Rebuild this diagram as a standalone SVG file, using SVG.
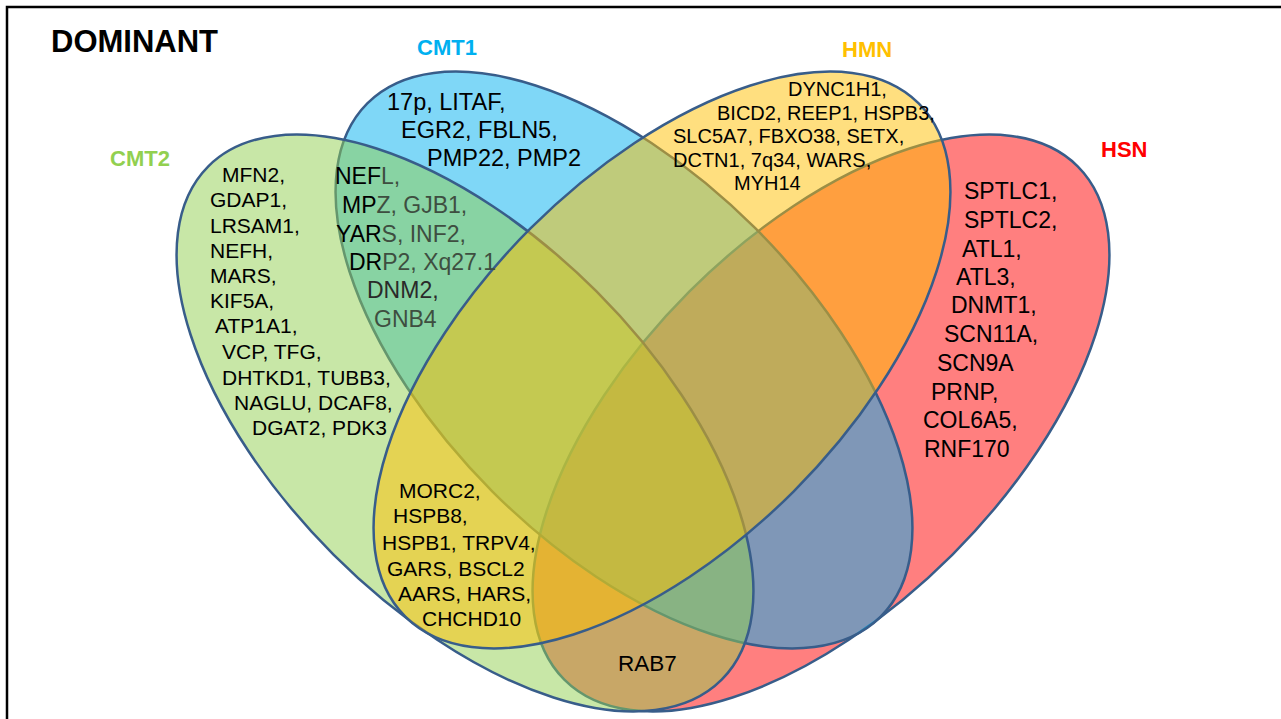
<svg xmlns="http://www.w3.org/2000/svg" width="1281" height="719" viewBox="0 0 1281 719">
<style>
.set{fill-opacity:0.5;stroke:#385D8A;stroke-width:2.5}
.t{font-family:"Liberation Sans",Arial,sans-serif;fill:#000}
.lbl{font-family:"Liberation Sans",Arial,sans-serif;font-weight:bold;font-size:22px}
.g{fill:#3e4e40}
</style>
<rect x="0" y="0" width="1281" height="719" fill="#fff"/>
<path d="M7,719 V7 H1281" fill="none" stroke="#000" stroke-width="2.5"/>
<text class="lbl" x="51" y="52" style="font-size:31px">DOMINANT</text>

<g id="ellipses">
  <g id="HSN"><ellipse class="set" cx="821" cy="423" rx="363" ry="186" transform="rotate(-45 821 423)" fill="#FF0000"/></g>
  <g id="CMT1"><ellipse class="set" cx="624" cy="360" rx="363" ry="186" transform="rotate(45 624 360)" fill="#00B0F0"/></g>
  <g id="CMT2"><ellipse class="set" cx="465" cy="423" rx="363" ry="186" transform="rotate(45 465 423)" fill="#92D050"/></g>
  <g id="HMN"><ellipse class="set" cx="662" cy="360" rx="363" ry="186" transform="rotate(-45 662 360)" fill="#FFC000"/></g>
</g>

<g id="set-labels">
  <text class="lbl" x="417" y="55" fill="#00B0F0">CMT1</text>
  <text class="lbl" x="110" y="166" fill="#92D050">CMT2</text>
  <text class="lbl" x="842" y="57" fill="#FFC000">HMN</text>
  <text class="lbl" x="1101" y="157" fill="#FF0000">HSN</text>
</g>

<g id="cmt1-only" class="t" style="font-size:23.5px">
  <text x="387" y="110">17p, LITAF,</text>
  <text x="401" y="138">EGR2, FBLN5,</text>
  <text x="427" y="166">PMP22, PMP2</text>
</g>

<g id="cmt2-only" class="t" style="font-size:21px">
  <text x="222" y="182">MFN2,</text>
  <text x="210" y="207">GDAP1,</text>
  <text x="210" y="233">LRSAM1,</text>
  <text x="210" y="258">NEFH,</text>
  <text x="210" y="283">MARS,</text>
  <text x="210" y="308">KIF5A,</text>
  <text x="215" y="333">ATP1A1,</text>
  <text x="222" y="359">VCP, TFG,</text>
  <text x="222" y="385">DHTKD1, TUBB3,</text>
  <text x="234" y="410">NAGLU, DCAF8,</text>
  <text x="252" y="435">DGAT2, PDK3</text>
</g>

<g id="cmt1-cmt2" class="t" style="font-size:23px">
  <text x="335" y="184">NEF<tspan class="g">L,</tspan></text>
  <text x="342" y="213">MP<tspan class="g">Z, GJB1,</tspan></text>
  <text x="336" y="242">YAR<tspan class="g">S, INF2,</tspan></text>
  <text x="349" y="270">DR<tspan class="g">P2, Xq27.1</tspan></text>
  <text x="367" y="298" fill="#2a2a2a">DNM2,</text>
  <text class="g" x="374" y="327">GNB4</text>
</g>

<g id="hmn-only" class="t" style="font-size:20px">
  <text x="788" y="96">DYNC1H1,</text>
  <text x="717" y="120">BICD2, REEP1, HSPB3,</text>
  <text x="673" y="143">SLC5A7, FBXO38, SETX,</text>
  <text x="673" y="167">DCTN1, 7q34, WARS,</text>
  <text x="734" y="190">MYH14</text>
</g>

<g id="hsn-only" class="t" style="font-size:23px">
  <text x="964" y="199">SPTLC1,</text>
  <text x="964" y="228">SPTLC2,</text>
  <text x="962" y="257">ATL1,</text>
  <text x="956" y="285">ATL3,</text>
  <text x="951" y="313">DNMT1,</text>
  <text x="944" y="342">SCN11A,</text>
  <text x="937" y="371">SCN9A</text>
  <text x="931" y="400">PRNP,</text>
  <text x="923" y="428">COL6A5,</text>
  <text x="924" y="457">RNF170</text>
</g>

<g id="cmt2-hmn" class="t" style="font-size:21px">
  <text x="399" y="498">MORC2,</text>
  <text x="393" y="523">HSPB8,</text>
  <text x="382" y="550">HSPB1, TRPV4,</text>
  <text x="387" y="576">GARS, BSCL2</text>
  <text x="398" y="601">AARS, HARS,</text>
  <text x="422" y="626">CHCHD10</text>
</g>

<g id="cmt2-hsn" class="t" style="font-size:22.5px">
  <text x="618" y="671">RAB7</text>
</g>
</svg>
